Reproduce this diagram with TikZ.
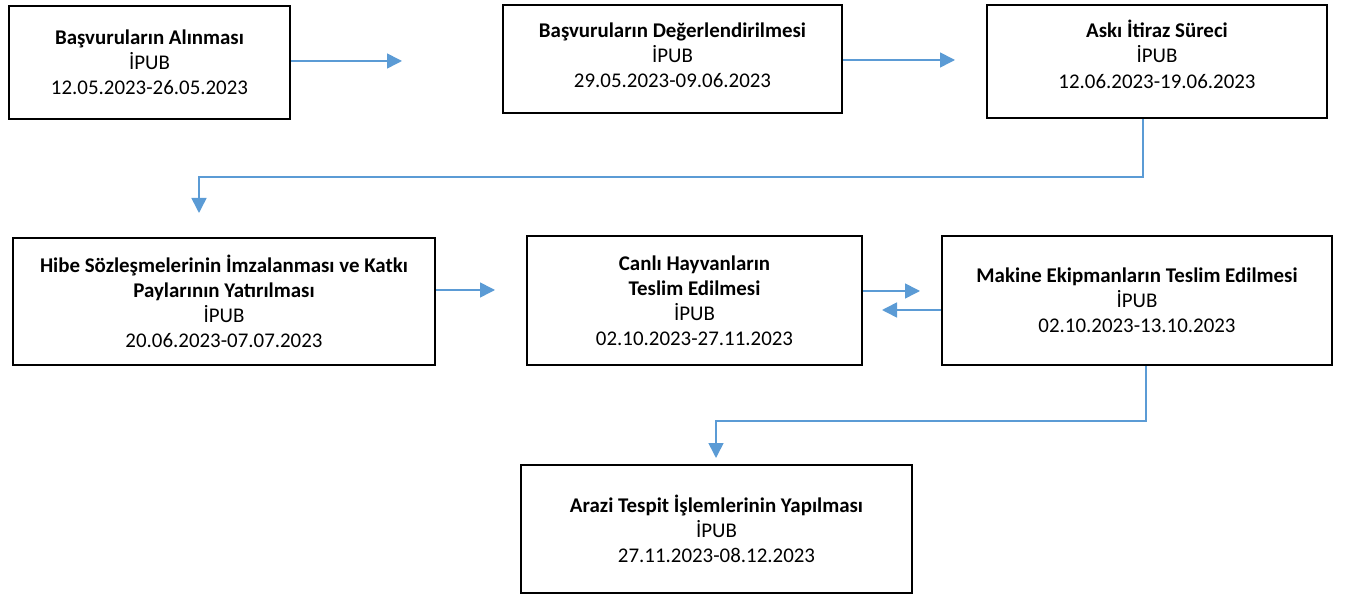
\documentclass[tikz,border=0pt]{standalone}
\usepackage{fontspec}
\setmainfont{Carlito}
\usetikzlibrary{arrows.meta}

\definecolor{flowblue}{HTML}{5B9BD5}

\begin{document}
\begin{tikzpicture}[x=0.02cm,y=-0.02cm]
    \tikzstyle{stage} = [rectangle,draw=black,line width=1.6pt,align=center,
                         inner sep=0pt,font=\fontsize{11.9}{14.3}\selectfont]
    \tikzstyle{flow}  = [draw=flowblue,line width=0.9pt,
                         -{Triangle[length=0.3cm,width=0.3cm]},flowblue]

    \useasboundingbox (0,0) rectangle (1352,597);

    \node[stage,minimum width=5.62cm,minimum height=2.26cm] (alim)   at (149.5,62.5)
        {\textbf{Başvuruların Alınması}\\İPUB\\12.05.2023-26.05.2023};
    \node[stage,minimum width=6.78cm,minimum height=2.16cm] (deger)  at (672.5,59)
        {\textbf{Başvuruların Değerlendirilmesi}\\İPUB\\29.05.2023-09.06.2023\\[-10pt]\mbox{}};
    \node[stage,minimum width=6.80cm,minimum height=2.26cm] (aski)   at (1157,61.5)
        {\textbf{Askı İtiraz Süreci}\\İPUB\\12.06.2023-19.06.2023\\[-6pt]\mbox{}};
    \node[stage,minimum width=8.44cm,minimum height=2.54cm] (hibe)   at (224,301.5)
        {\textbf{Hibe Sözleşmelerinin İmzalanması ve Katkı}\\\textbf{Paylarının Yatırılması}\\İPUB\\20.06.2023-07.07.2023};
    \node[stage,minimum width=6.70cm,minimum height=2.58cm] (canli)  at (694.5,300.5)
        {\textbf{Canlı Hayvanların}\\\textbf{Teslim Edilmesi}\\İPUB\\02.10.2023-27.11.2023};
    \node[stage,minimum width=7.80cm,minimum height=2.58cm] (makine) at (1137,300.5)
        {\textbf{Makine Ekipmanların Teslim Edilmesi}\\İPUB\\02.10.2023-13.10.2023};
    \node[stage,minimum width=7.82cm,minimum height=2.56cm] (arazi)  at (716.5,529)
        {\textbf{Arazi Tespit İşlemlerinin Yapılması}\\İPUB\\27.11.2023-08.12.2023};

    % free arrow ends and bends
    \coordinate (t1) at (402,61);
    \coordinate (t2) at (955,60);
    \coordinate (k3) at (1143,177);
    \coordinate (t3) at (199,213);
    \coordinate (t4) at (495,290);
    \coordinate (t5) at (920,291);
    \coordinate (t6) at (882,310);
    \coordinate (k7) at (1146,421);
    \coordinate (t7) at (716,458);

    \draw[flow] (alim.east |- t1)   -- (t1);
    \draw[flow] (deger.east |- t2)  -- (t2);
    \draw[flow] (aski.south -| k3)  -- (k3) -| (t3);
    \draw[flow] (hibe.east |- t4)   -- (t4);
    \draw[flow] (canli.east |- t5)  -- (t5);
    \draw[flow] (makine.west |- t6) -- (t6);
    \draw[flow] (makine.south -| k7) -- (k7) -| (t7);
\end{tikzpicture}
\end{document}
